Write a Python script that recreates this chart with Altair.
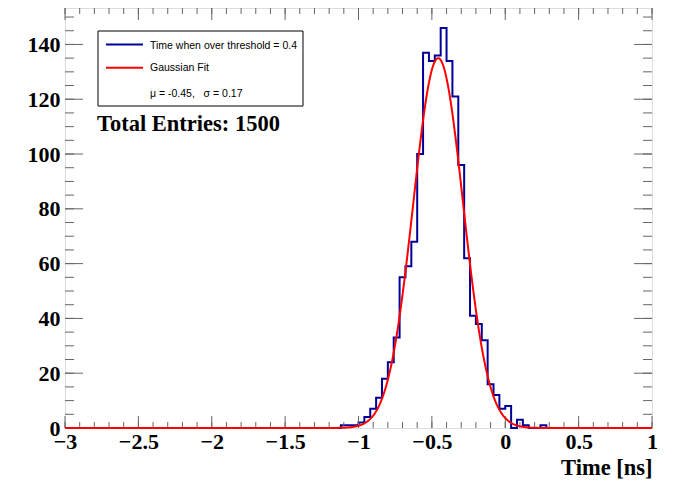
import altair as alt
import numpy as np
import pandas as pd

# ---- data ----
bin_width = 0.04
x_min, x_max = -3.0, 1.0
first_edge = -1.12
counts_nonzero = [1, 1, 1, 2, 4, 7, 11, 18, 24, 33, 55, 59, 68, 100, 137, 134, 136,
                  146, 134, 121, 96, 62, 41, 38, 32, 16, 12, 7, 8, 0, 3, 1, 0, 0, 1]
fit_mu = -0.457
fit_sigma = 0.17
fit_amp = 135.0

legend_labels = ["Time when over threshold = 0.4", "Gaussian Fit",
                 "μ = -0.45,\u00a0\u00a0\u00a0σ = 0.17"]
entries_text = "Total Entries: 1500"

x_major = [-3, -2.5, -2, -1.5, -1, -0.5, 0, 0.5, 1]
x_minor = [round(-3 + 0.1 * i, 2) for i in range(41)]
y_major = [0, 20, 40, 60, 80, 100, 120, 140]
y_minor = list(range(0, 155, 5))

# ---- build tables ----
nbins = int(round((x_max - x_min) / bin_width))
edges = [round(x_min + i * bin_width, 4) for i in range(nbins + 1)]
counts = [0] * nbins
start = int(round((first_edge - x_min) / bin_width))
for i, c in enumerate(counts_nonzero):
    counts[start + i] = c
hist = pd.DataFrame({"x": edges, "n": counts + [counts[-1]]})

xs = np.linspace(x_min, x_max, 801)
fit = pd.DataFrame({"x": xs, "f": fit_amp * np.exp(-0.5 * ((xs - fit_mu) / fit_sigma) ** 2)})

W, H = 587, 420
xs_scale = alt.Scale(domain=[x_min, x_max], nice=False, zero=False)
ys_scale = alt.Scale(domain=[0, 153.3], nice=False, zero=True)
tick_col = "#666666"
serif = "Liberation Serif"

x_axis = alt.Axis(values=x_major, format="~g", ticks=False, domain=False, grid=False,
                  labelFont=serif, labelFontSize=22, labelFontWeight="bold",
                  labelColor="black", labelPadding=3, labelFlush=False, labelOverlap=False,
                  title="Time [ns]", titleFont=serif, titleFontSize=22.5,
                  titleFontWeight="bold", titleColor="black", titleAnchor="end",
                  titleAlign="right", titlePadding=4)
y_axis = alt.Axis(values=y_major, format="d", ticks=False, domain=False, grid=False,
                  labelFont=serif, labelFontSize=22, labelFontWeight="bold",
                  labelColor="black", labelPadding=5, labelFlush=False,
                  labelOverlap=False, title="")

hist_line = alt.Chart(hist).mark_line(interpolate="step-after", color="#000099",
                                      strokeWidth=2).encode(
    x=alt.X("x:Q", scale=xs_scale, axis=x_axis), y=alt.Y("n:Q", scale=ys_scale, axis=y_axis))

fit_line = alt.Chart(fit).mark_line(color="#ff0000", strokeWidth=2).encode(
    x=alt.X("x:Q", scale=xs_scale, axis=x_axis), y=alt.Y("f:Q", scale=ys_scale, axis=y_axis))

xmaj = pd.DataFrame({"v": x_major})
xmin_ = pd.DataFrame({"v": x_minor})
ymaj = pd.DataFrame({"v": y_major})
ymin_ = pd.DataFrame({"v": y_minor})

def xticks(df, length):
    b = alt.Chart(df).mark_rule(color=tick_col, strokeWidth=1)
    xx = alt.X("v:Q", scale=xs_scale, axis=x_axis)
    bottom = b.encode(x=xx, y=alt.value(H), y2=alt.value(H - length))
    top = b.encode(x=xx, y=alt.value(0), y2=alt.value(length))
    return bottom + top

def yticks(df, length):
    b = alt.Chart(df).mark_rule(color=tick_col, strokeWidth=1)
    yy = alt.Y("v:Q", scale=ys_scale, axis=y_axis)
    left = b.encode(y=yy, x=alt.value(0), x2=alt.value(length))
    right = b.encode(y=yy, x=alt.value(W), x2=alt.value(W - length))
    return left + right

ticks = xticks(xmin_, 6) + xticks(xmaj, 12) + yticks(ymin_, 9) + yticks(ymaj, 18)

dummy = pd.DataFrame({"a": [0]})
leg_box = alt.Chart(dummy).mark_rect(fill="white", stroke="black", strokeWidth=1).encode(
    x=alt.value(33), x2=alt.value(238), y=alt.value(23), y2=alt.value(98))
leg_blue = alt.Chart(dummy).mark_rule(color="#000099", strokeWidth=2).encode(
    x=alt.value(41), x2=alt.value(78), y=alt.value(36.5))
leg_red = alt.Chart(dummy).mark_rule(color="#ff0000", strokeWidth=2).encode(
    x=alt.value(41), x2=alt.value(78), y=alt.value(59.7))

def leg_line_text(label, ypos):
    return alt.Chart(pd.DataFrame({"t": [label]})).mark_text(
        align="left", baseline="middle", font="Liberation Sans", fontSize=10.5,
        color="black").encode(text="t:N", x=alt.value(85), y=alt.value(ypos))

leg_text = (leg_line_text(legend_labels[0], 37.5) + leg_line_text(legend_labels[1], 59.7)
            + leg_line_text(legend_labels[2], 86.3))

entries = alt.Chart(pd.DataFrame({"t": [entries_text]})).mark_text(
    align="left", baseline="middle", font=serif, fontSize=22.5, fontWeight="bold",
    color="black").encode(text="t:N", x=alt.value(32), y=alt.value(115.5))

chart = alt.layer(hist_line, ticks, fit_line, leg_box, leg_blue, leg_red, leg_text, entries).properties(
    width=W, height=H,
    autosize=alt.AutoSizeParams(type="none"),
    padding={"left": 57, "top": 0, "right": 17, "bottom": 53},
).configure_view(stroke="#444444", strokeWidth=1).configure(background="white")

chart.save("out.html", embed_options={"renderer": "svg", "actions": False})
